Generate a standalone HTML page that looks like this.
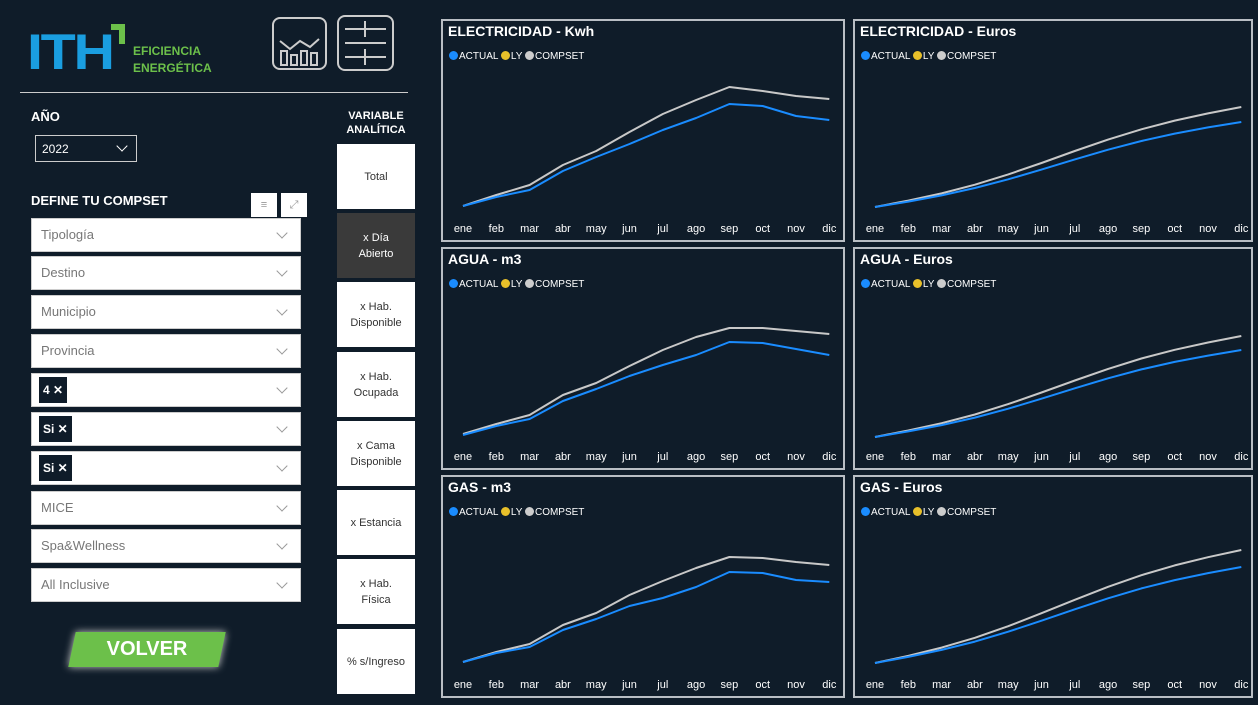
<!DOCTYPE html>
<html><head><meta charset="utf-8"><style>
*{margin:0;padding:0;box-sizing:border-box}
body{width:1258px;height:705px;background:#0f1c29;font-family:"Liberation Sans",sans-serif;position:relative;overflow:hidden;color:#fff}
.abs{position:absolute}
.dd{position:absolute;left:31px;width:270px;height:34px;background:#fff;border:1px solid #ccc;color:#777;font-size:13px;line-height:32px;padding-left:9px}
.dd:after{content:"";position:absolute;right:14px;top:10px;width:7px;height:7px;border-right:1px solid #999;border-bottom:1px solid #999;transform:rotate(45deg)}
.tag{display:inline-block;background:#0f1c29;color:#fff;font-weight:bold;font-size:12px;height:26px;line-height:26px;padding:0 4px;margin-left:4px;margin-top:3px;vertical-align:top}
.vb{position:absolute;left:337px;width:78px;height:65px;background:#fff;color:#333;font-size:11px;display:flex;align-items:center;justify-content:center;text-align:center;line-height:16px}
.panel{position:absolute;height:223px;border:2px solid #b9bec4;background:#0f1c29}
.panel h3{position:absolute;left:5px;top:2px;font-size:14px;font-weight:bold;color:#fff}
.leg{position:absolute;left:6px;top:30px;font-size:10px;color:#fff}
.leg i{display:inline-block;width:9px;height:9px;border-radius:50%;vertical-align:-1px;margin-right:1px}
.panel svg{position:absolute;left:0;top:0}
</style></head><body>
<div class="abs" style="left:27px;top:30px;font-size:50px;font-weight:900;color:#1a9ee0;letter-spacing:-2px;line-height:44px;transform:scaleX(1.15);transform-origin:left">ITH</div>
<div class="abs" style="left:111px;top:24px;width:14px;height:20px;border-top:6px solid #6cc04a;border-right:6px solid #6cc04a"></div>
<div class="abs" style="left:133px;top:43px;font-size:12px;font-weight:bold;color:#6cc04a;line-height:17px">EFICIENCIA<br>ENERGÉTICA</div>
<div class="abs" style="left:272px;top:17px;width:55px;height:53px;border:2px solid #ccc;border-radius:8px"></div>
<svg class="abs" style="left:272px;top:17px" width="55" height="53"><polyline points="8,24 18,32 28,24 38,30 47,22" fill="none" stroke="#ccc" stroke-width="2"/><rect x="9" y="34" width="6" height="14" fill="none" stroke="#ccc" stroke-width="2"/><rect x="19" y="38" width="6" height="10" fill="none" stroke="#ccc" stroke-width="2"/><rect x="29" y="34" width="6" height="14" fill="none" stroke="#ccc" stroke-width="2"/><rect x="39" y="36" width="6" height="12" fill="none" stroke="#ccc" stroke-width="2"/></svg>
<div class="abs" style="left:337px;top:15px;width:57px;height:56px;border:2px solid #ccc;border-radius:8px"></div>
<svg class="abs" style="left:337px;top:15px" width="57" height="56"><path d="M8 14H49M8 28H49M8 42H49M28 6V22M28 34V50" stroke="#ccc" stroke-width="2"/></svg>
<div class="abs" style="left:20px;top:92px;width:388px;height:1px;background:#ccc"></div>
<div class="abs" style="left:31px;top:109px;font-size:13px;font-weight:bold">AÑO</div>
<div class="abs" style="left:35px;top:135px;width:102px;height:27px;border:1px solid #ccc;font-size:12px;line-height:27px;padding-left:6px">2022</div>
<div class="abs" style="left:118px;top:142px;width:8px;height:8px;border-right:1.5px solid #fff;border-bottom:1.5px solid #fff;transform:rotate(45deg)"></div>
<div class="abs" style="left:31px;top:193px;font-size:13px;font-weight:bold">DEFINE TU COMPSET</div>
<div class="abs" style="left:251px;top:193px;width:26px;height:24px;background:#fff;color:#999;font-size:11px;text-align:center;line-height:24px">≡</div>
<div class="abs" style="left:281px;top:193px;width:26px;height:24px;background:#fff;color:#999;font-size:11px;text-align:center;line-height:24px">⤢</div>
<div class="dd" style="top:218px">Tipología</div>
<div class="dd" style="top:256px">Destino</div>
<div class="dd" style="top:295px">Municipio</div>
<div class="dd" style="top:334px">Provincia</div>
<div class="dd" style="top:373px;padding-left:3px"><span class="tag">4 ✕</span></div>
<div class="dd" style="top:412px;padding-left:3px"><span class="tag">Si ✕</span></div>
<div class="dd" style="top:451px;padding-left:3px"><span class="tag">Si ✕</span></div>
<div class="dd" style="top:491px">MICE</div>
<div class="dd" style="top:529px">Spa&amp;Wellness</div>
<div class="dd" style="top:568px">All Inclusive</div>
<div class="abs" style="left:72px;top:632px;width:150px;height:35px;background:#6cc04a;transform:skewX(-12deg);box-shadow:0 0 8px #ccc"></div>
<div class="abs" style="left:72px;top:638px;width:150px;text-align:center;font-size:20px;font-weight:bold">VOLVER</div>
<div class="abs" style="left:337px;top:109px;width:78px;text-align:center;font-size:11px;font-weight:bold;line-height:14px">VARIABLE<br>ANALÍTICA</div>
<div class="vb" style="top:144px">Total</div>
<div class="vb" style="top:213px;background:#3a3a3a;color:#fff">x Día<br>Abierto</div>
<div class="vb" style="top:282px">x Hab.<br>Disponible</div>
<div class="vb" style="top:352px">x Hab.<br>Ocupada</div>
<div class="vb" style="top:421px">x Cama<br>Disponible</div>
<div class="vb" style="top:490px">x Estancia</div>
<div class="vb" style="top:559px">x Hab.<br>Física</div>
<div class="vb" style="top:629px">% s/Ingreso</div>
<div id="charts"></div>
<script>
var P=[
[441,19,"ELECTRICIDAD - Kwh",[185,174,164,144,130,111,93,79,66,70,75,78],[185,176,169,150,136,123,109,97,83,85,95,99]],
[853,19,"ELECTRICIDAD - Euros",null,null,186,86,101],
[441,247,"AGUA - m3",[185,175,166,146,134,117,101,88,79,79,82,85],[186,177,170,152,140,127,116,106,93,94,100,106]],
[853,247,"AGUA - Euros",null,null,188,87,101],
[441,475,"GAS - m3",[185,175,167,148,136,118,104,91,80,81,85,88],[185,176,170,153,142,129,121,110,95,96,103,105]],
[853,475,"GAS - Euros",null,null,186,73,90]];
var M=["ene","feb","mar","abr","may","jun","jul","ago","sep","oct","nov","dic"];
var h="";
P.forEach(function(p){
 var c=p[3],a=p[4],w=c?404:400;
 if(!c){c=[];a=[];for(var i=0;i<12;i++){var t=i/11,s=t-0.05*Math.sin(2*Math.PI*t);c.push(p[5]+(p[6]-p[5])*s);a.push(p[5]+(p[7]-p[5])*s);}}
 function pts(v){return v.map(function(y,i){return (20+i*33.3).toFixed(1)+","+y.toFixed(1)}).join(" ")}
 var svg='<svg width="'+w+'" height="223"><polyline points="'+pts(c)+'" fill="none" stroke="#c8c8c8" stroke-width="2" stroke-linejoin="round"/><polyline points="'+pts(a)+'" fill="none" stroke="#1a8cff" stroke-width="2" stroke-linejoin="round"/>';
 M.forEach(function(m,i){svg+='<text x="'+(20+i*33.3)+'" y="211" fill="#fff" font-size="11" text-anchor="middle" font-family="Liberation Sans">'+m+'</text>'});
 svg+='</svg>';
 h+='<div class="panel" style="width:'+w+'px;left:'+p[0]+'px;top:'+p[1]+'px">'+svg+'<h3>'+p[2]+'</h3><div class="leg"><i style="background:#1a8cff"></i>ACTUAL <i style="background:#e8c02a"></i>LY <i style="background:#ccc"></i>COMPSET</div></div>';
});
document.getElementById("charts").innerHTML=h;
</script>
</body></html>
